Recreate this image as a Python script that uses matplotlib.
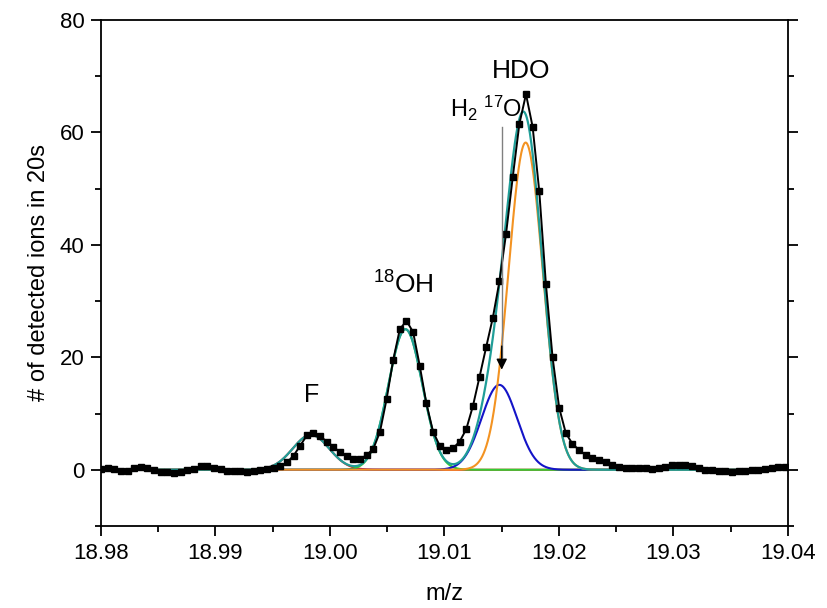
import numpy as np
import matplotlib
matplotlib.use("Agg")
import matplotlib.pyplot as plt
from matplotlib.ticker import MultipleLocator, FormatStrFormatter

plt.rcParams['font.family'] = ['Liberation Sans', 'DejaVu Sans']
plt.rcParams['mathtext.fontset'] = 'custom'
plt.rcParams['mathtext.rm'] = 'Liberation Sans'
plt.rcParams['mathtext.default'] = 'regular'

# ---- data (measured points) ----
mz_start = 18.98
mz_step = 0.00058
counts = [0.2, 0.4, 0.1, -0.2, -0.3, 0.3, 0.5, 0.4, -0.1, -0.4,
          -0.4, -0.5, -0.4, -0.1, 0.2, 0.6, 0.7, 0.4, 0.1, -0.2,
          -0.3, -0.3, -0.4, -0.3, -0.1, 0.1, 0.3, 0.6, 1.3, 2.5,
          4.3, 6.1, 6.6, 6.0, 5.0, 4.1, 3.1, 2.4, 1.9, 1.9,
          2.6, 3.7, 6.7, 12.5, 19.5, 25.0, 26.5, 24.5, 18.5, 11.8,
          6.8, 4.3, 3.6, 3.8, 5.0, 7.2, 11.3, 16.5, 21.8, 27.0,
          33.5, 42.0, 52.0, 61.5, 66.8, 61.0, 49.5, 33.0, 20.0, 11.0,
          6.5, 4.6, 3.5, 2.6, 2.1, 1.8, 1.3, 0.9, 0.5, 0.3,
          0.4, 0.3, 0.3, 0.2, 0.3, 0.5, 0.8, 0.9, 0.8, 0.7,
          0.4, 0.0, -0.1, -0.2, -0.3, -0.4, -0.3, -0.2, -0.1, 0.0,
          0.1, 0.3, 0.5, 0.5]

# ---- Gaussian fit components: F, 18OH, H2-17O, HDO ----
peak_names = ['F', '18OH', 'H2 17O', 'HDO']
peak_centers = [18.99834, 19.00659, 19.01479, 19.01709]
peak_heights = [6.2, 25.0, 15.1, 58.2]
peak_sigmas = [0.0016, 0.00148, 0.00155, 0.0015]
peak_colors = ['#e02020', '#33cc33', '#1414c8', '#f39322']
total_color = '#209e98'

fig = plt.figure(figsize=(8.27, 6.08), dpi=100)
ax = fig.add_axes([0.1221, 0.1349, 0.9528 - 0.1221, 0.9671 - 0.1349])

xx = np.linspace(18.98, 19.04, 1500)
comps = [h * np.exp(-0.5 * ((xx - c) / s) ** 2)
         for c, h, s in zip(peak_centers, peak_heights, peak_sigmas)]
for comp, col in zip(comps, peak_colors):
    ax.plot(xx, comp, color=col, lw=1.5, zorder=2)
ax.plot(xx, np.sum(comps, axis=0), color=total_color, lw=1.6, zorder=3)

mz = mz_start + mz_step * np.arange(len(counts))
ax.plot(mz, counts, color='black', lw=1.4, marker='s', markersize=4.3, zorder=4)

# labels
ax.text(18.99840, 12.0, 'F', fontsize=18, ha='center', va='baseline')
ax.text(19.00640, 31.3, r'$^{18}$OH', fontsize=19, ha='center', va='baseline')
ax.text(19.01048, 62.7, r'H$_2$ $^{17}$O', fontsize=17, ha='left', va='baseline')
ax.text(19.01667, 69.7, 'HDO', fontsize=19, ha='center', va='baseline')

# arrow
ax.plot([19.0150, 19.0150], [61.0, 20.0], color='#808080', lw=1.0, zorder=5)
ax.annotate('', xy=(19.0150, 17.8), xytext=(19.0150, 22.0),
            arrowprops=dict(arrowstyle='-|>', color='black', lw=1.0,
                            mutation_scale=16, shrinkA=0, shrinkB=0), zorder=6)

ax.set_xlim(18.98, 19.04)
ax.set_ylim(-10, 80)
ax.xaxis.set_major_locator(MultipleLocator(0.01))
ax.xaxis.set_minor_locator(MultipleLocator(0.005))
ax.xaxis.set_major_formatter(FormatStrFormatter('%.2f'))
ax.yaxis.set_major_locator(MultipleLocator(20))
ax.yaxis.set_minor_locator(MultipleLocator(10))

for sp in ax.spines.values():
    sp.set_linewidth(1.3)
ax.tick_params(which='both', direction='out', width=1.3, labelsize=16,
               right=True, top=False, labelright=False)
ax.tick_params(which='major', length=7, pad=5)
ax.tick_params(which='minor', length=4)

ax.set_xlabel('m/z', fontsize=17, labelpad=14)
ax.set_ylabel('# of detected ions in 20s', fontsize=17, labelpad=7)

fig.savefig('out.png', dpi=100)
